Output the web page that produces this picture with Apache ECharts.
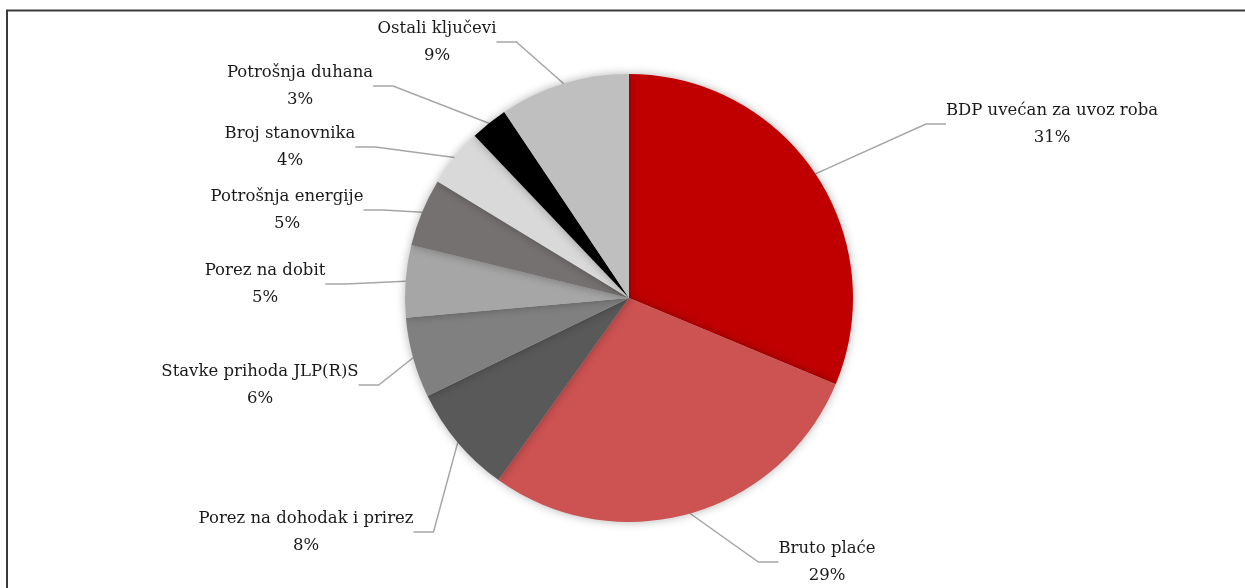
<!DOCTYPE html>
<html>
<head>
<meta charset="utf-8">
<script src="https://cdn.jsdelivr.net/npm/echarts@6/dist/echarts.min.js"></script>
<style>
html,body{margin:0;padding:0;background:#fff;}
#chart{width:1245px;height:588px;}
</style>
</head>
<body>
<div id="chart"></div>
<script>
const categories = ['BDP uvećan za uvoz roba','Bruto plaće','Porez na dohodak i prirez','Stavke prihoda JLP(R)S','Porez na dobit','Potrošnja energije','Broj stanovnika','Potrošnja duhana','Ostali ključevi'];
const values = [31.3, 28.6, 7.9, 5.8, 5.2, 4.9, 4.2, 2.7, 9.4];
const colors = ['#c00000','#cd5252','#595959','#808080','#a6a6a6','#767171','#d9d9d9','#000000','#bfbfbf'];
// label block centres (layout only)
const labelCentres = [[1052,124],[827,562],[306,532],[260,385],[265,284],[287,210],[290,147],[300,86],[437,42]];

const chart = echarts.init(document.getElementById('chart'));
chart.setOption({
  animation:false,
  graphic:[{type:'rect',shape:{x:7,y:10.5,width:1300,height:700},style:{fill:'none',stroke:'#3a3a3a',lineWidth:2}}],
  series:[{
    type:'pie',
    center:[629,298],
    radius:[0,224],
    startAngle:90,
    clockwise:true,
    percentPrecision:0,
    data:categories.map((c,i)=>({name:c,value:values[i],itemStyle:{color:colors[i]}})),
    itemStyle:{shadowBlur:10,shadowColor:'rgba(0,0,0,0.3)',borderWidth:0},
    emphasis:{disabled:true},
    label:{show:true,formatter:'{b}\n{d}%',fontFamily:'DejaVu Serif',fontSize:16.5,color:'#1a1a1a',lineHeight:27,align:'center'},
    labelLine:{show:true,lineStyle:{color:'#a6a6a6',width:1.5},length:20,length2:20},
    labelLayout:function(p){
      const c = labelCentres[p.dataIndex];
      return {x:c[0],y:c[1],align:'center',verticalAlign:'middle',moveOverlap:false};
    }
  }]
});
</script>
</body>
</html>
